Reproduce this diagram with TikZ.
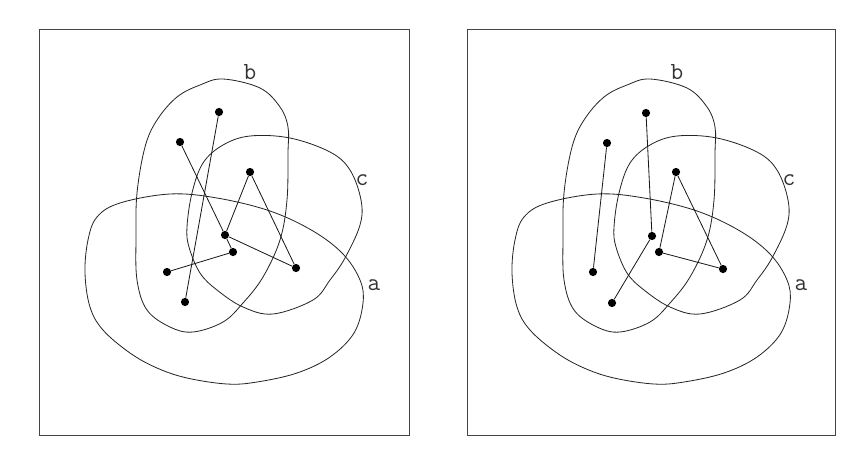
\documentclass[tikz,border=0pt]{standalone}
\usepackage{tikz}
\usetikzlibrary{positioning,calc}
\definecolor{FrameGrey}{HTML}{444444}

% the three regions a, b, c and their labels (#1 = name prefix)
\newcommand{\regions}[1]{%
  \draw[region] plot[smooth cycle,tension=0.6] coordinates {
    (223,79) (260,88) (280,107) (288,127) (288,153) (287,200) (280,240)
    (263,277) (243,303) (223,322) (193,332) (170,327) (147,310) (137,280)
    (136,237) (137,193) (145,147) (157,120) (177,97) (200,85)};
  \draw[region] plot[smooth cycle,tension=0.6] coordinates {
    (250,136) (290,138) (330,152) (350,170) (361,200) (360,225) (345,258)
    (330,280) (313,300) (273,314) (243,307) (217,290) (200,273) (189,247)
    (187,227) (192,193) (203,163) (223,145)};
  \draw[region] plot[smooth cycle,tension=0.6] coordinates {
    (120,203) (170,194) (217,198) (270,211) (313,231) (343,254) (360,280)
    (363,303) (354,333) (330,357) (297,373) (257,382) (227,384) (187,378)
    (157,368) (130,353) (103,330) (90,307) (85,273) (88,240) (97,217)};
  \node[lbl] (#1b) at (250,72) {b};
  \node[lbl] (#1c) at (362,180) {c};
  \node[lbl] (#1a) at (374,285) {a};
}

\begin{document}
\begin{tikzpicture}[
  x=0.03cm, y=-0.03cm,
  frame/.style={draw=FrameGrey,line width=0.8pt},
  region/.style={draw=black!85,line width=0.7pt},
  dot/.style={circle,fill=black,inner sep=0pt,minimum size=7pt},
  edge/.style={black!90,line width=0.7pt},
  lbl/.style={inner sep=0pt,text=black!80,font=\ttfamily\fontsize{21}{21}\selectfont}
]
  \useasboundingbox (0,0) rectangle (851,468);

  % left panel
  \node[frame,minimum width=370*0.03cm,minimum height=406*0.03cm,anchor=north west] (lframe) at (39,29) {};
  \regions{l}
  \node[dot] (l1) at (219,112) {};
  \node[dot] (l2) at (180,142) {};
  \node[dot] (l3) at (250,172) {};
  \node[dot] (l4) at (225,235) {};
  \node[dot] (l5) at (233,252) {};
  \node[dot] (l6) at (167,272) {};
  \node[dot] (l7) at (296,268) {};
  \node[dot] (l8) at (185,302) {};
  \draw[edge] (l1) -- (l8);
  \draw[edge] (l2) -- (l4);
  \draw[edge] (l4) -- (l5);
  \draw[edge] (l5) -- (l6);
  \draw[edge] (l3) -- (l4);
  \draw[edge] (l3) -- (l7);
  \draw[edge] (l4) -- (l7);

  % right panel
  \node[frame,minimum width=368*0.03cm,minimum height=406*0.03cm,anchor=north west] (rframe) at (467,29) {};
  \begin{scope}[xshift=427*0.03cm]
    \regions{r}
  \end{scope}
  \node[dot] (r1) at (646,113) {};
  \node[dot] (r2) at (607,143) {};
  \node[dot] (r3) at (676,172) {};
  \node[dot] (r4) at (652,236) {};
  \node[dot] (r5) at (659,252) {};
  \node[dot] (r6) at (593,272) {};
  \node[dot] (r7) at (723,269) {};
  \node[dot] (r8) at (612,303) {};
  \draw[edge] (r1) -- (r4);
  \draw[edge] (r2) -- (r6);
  \draw[edge] (r4) -- (r8);
  \draw[edge] (r3) -- (r5);
  \draw[edge] (r3) -- (r7);
  \draw[edge] (r5) -- (r7);
\end{tikzpicture}
\end{document}
